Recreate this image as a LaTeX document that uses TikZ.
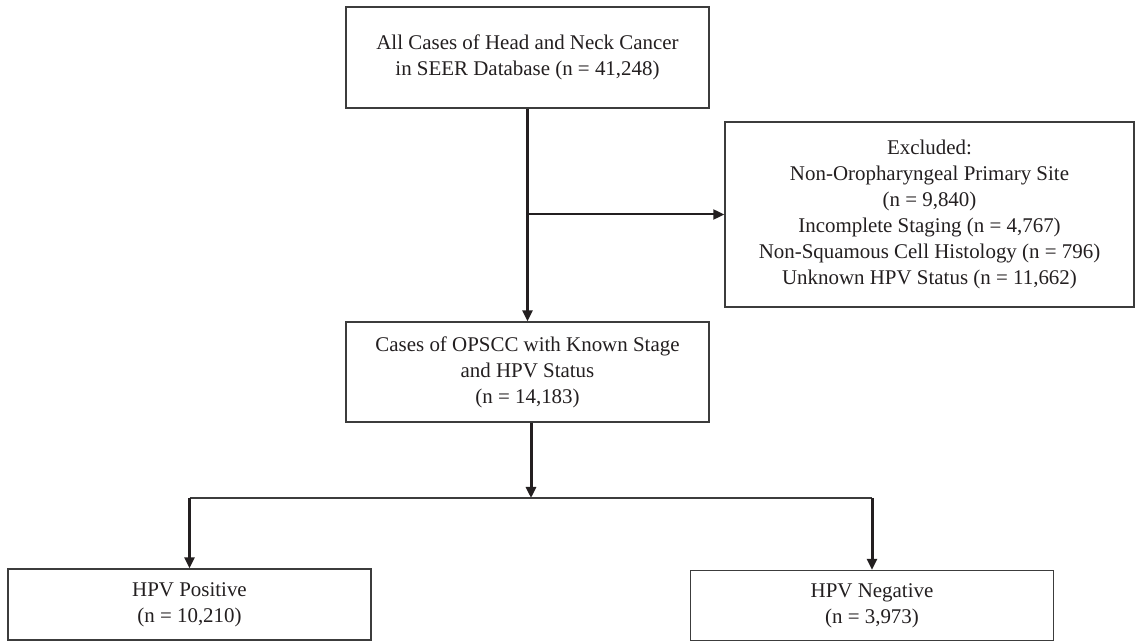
\documentclass[tikz,border=0pt]{standalone}
\usepackage{fontspec}
\setmainfont{Liberation Serif}
\usetikzlibrary{arrows.meta}
\definecolor{ink}{HTML}{231F20}
\definecolor{edge}{HTML}{3C3C3C}
\begin{document}
\begin{tikzpicture}[x=0.75pt,y=-0.75pt,
  box/.style={draw=edge,line width=1pt,fill=white,inner sep=0pt,align=center,
    text=ink,font=\fontsize{15.7pt}{19.4pt}\selectfont},
  thickarrow/.style={draw=ink,line width=2.25pt,-{Triangle[length=8.25pt,width=7.5pt]}},
  medarrow/.style={draw=ink,line width=1.5pt,-{Triangle[length=8.25pt,width=7.5pt]}},
  thinline/.style={draw=edge,line width=1pt}]
\useasboundingbox (0,0) rectangle (1136,641);
\node[box,minimum width=272.25pt,minimum height=75.75pt] (top) at (527.5,57.5)
  {All Cases of Head and Neck Cancer\\in SEER Database (n = 41,248)};
\node[box,minimum width=306.75pt,minimum height=138.75pt] (excl) at (929.5,214.5)
  {Excluded:\\Non-Oropharyngeal Primary Site\\(n = 9,840)\\Incomplete Staging (n = 4,767)\\Non-Squamous Cell Histology (n = 796)\\Unknown HPV Status (n = 11,662)};
\node[box,minimum width=272.25pt,minimum height=75pt] (mid) at (527.5,372)
  {Cases of OPSCC with Known Stage\\and HPV Status\\(n = 14,183)};
\node[box,minimum width=272.25pt,minimum height=53.25pt] (pos) at (189.5,604.5)
  {HPV Positive\\(n = 10,210)};
\node[box,minimum width=272.25pt,minimum height=52.5pt] (neg) at (872,605.5)
  {HPV Negative\\(n = 3,973)};
\coordinate (split) at (531,498);
\draw[thickarrow] (top.south) -- (mid.north);
\draw[medarrow] (top.south |- excl.west) -- (excl.west);
\draw[thickarrow] (mid.south -| split) -- (split);
\draw[thinline] (pos.north |- split) -- (neg.north |- split);
\draw[thickarrow] (pos.north |- split) -- (pos.north);
\draw[thickarrow] (neg.north |- split) -- (neg.north);
\end{tikzpicture}
\end{document}
